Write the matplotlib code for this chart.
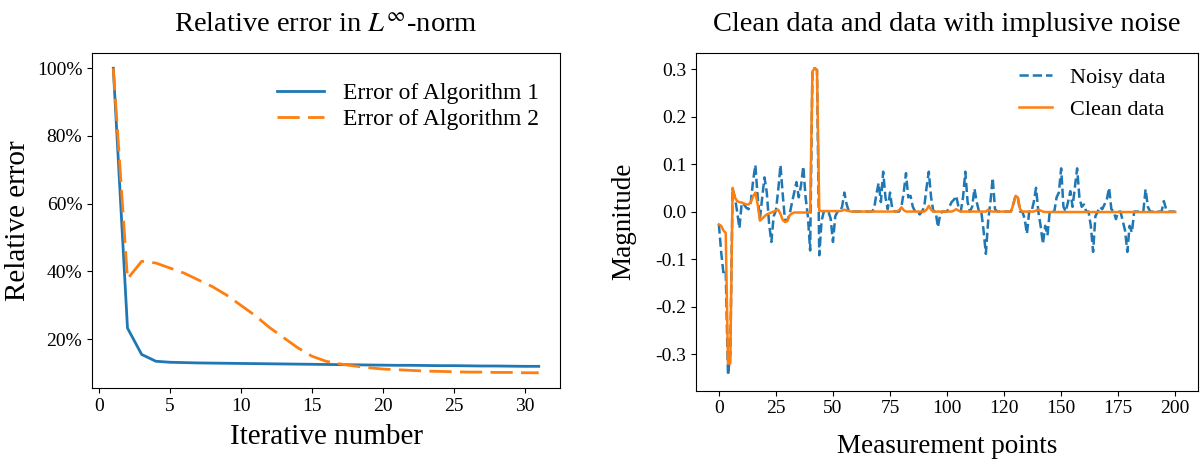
import matplotlib
matplotlib.use('Agg')
import matplotlib.pyplot as plt
import numpy as np

plt.rcParams['font.family'] = ['Liberation Serif', 'DejaVu Serif']
plt.rcParams['mathtext.fontset'] = 'stix'
plt.rcParams['axes.unicode_minus'] = False

# relative error curves (%)
iters = list(range(1, 32))
err_alg1 = [100.0, 23.3, 15.5, 13.5, 13.2, 13.1, 13.0, 12.95, 12.9, 12.85, 12.8, 12.75, 12.7, 12.65,
            12.6, 12.55, 12.5, 12.45, 12.4, 12.35, 12.3, 12.3, 12.25, 12.2, 12.2, 12.15, 12.1, 12.1,
            12.05, 12.0, 12.0]
err_alg2 = [100.0, 37.8, 43.0, 42.5, 41.0, 39.5, 37.5, 35.5, 33.0, 30.0, 27.0, 23.5, 20.5, 17.5,
            15.0, 13.5, 12.7, 12.1, 11.6, 11.2, 11.0, 10.8, 10.6, 10.5, 10.4, 10.3, 10.3, 10.2,
            10.2, 10.1, 10.1]

# measurement data
points = list(range(0, 201))
noisy = [-0.027, -0.085, -0.130, -0.125, -0.345, -0.300, 0.048, 0.030, 0.000, -0.035,
         0.018, 0.015, 0.008, 0.005, 0.020, 0.065, 0.098, 0.030, -0.015, 0.030,
         0.072, 0.040, -0.025, -0.064, -0.010, 0.002, 0.045, 0.098, 0.035, -0.020,
         -0.018, -0.006, 0.018, 0.040, 0.062, 0.030, 0.055, 0.095, 0.030, -0.010,
         -0.082, 0.300, 0.302, 0.298, -0.092, -0.020, 0.000, 0.000, 0.000, -0.015,
         -0.064, -0.010, 0.000, 0.000, 0.010, 0.040, 0.015, 0.000, 0.000, 0.000,
         0.000, 0.000, 0.000, 0.000, 0.000, 0.000, 0.000, 0.000, 0.005, 0.036,
         0.060, 0.020, 0.084, 0.030, 0.005, 0.040, 0.005, 0.000, 0.000, 0.000,
         0.010, 0.040, 0.081, 0.030, 0.033, 0.010, 0.000, 0.000, -0.006, 0.000,
         0.010, 0.050, 0.084, 0.030, 0.000, 0.000, -0.033, -0.005, 0.000, 0.000,
         0.000, 0.010, 0.020, 0.025, 0.033, 0.010, 0.000, 0.030, 0.084, 0.020,
         0.000, 0.010, 0.048, 0.020, 0.000, 0.000, -0.040, -0.089, -0.020, 0.020,
         0.071, 0.005, 0.000, 0.000, 0.000, 0.000, 0.000, 0.000, 0.000, 0.015,
         0.033, 0.030, 0.000, 0.000, -0.015, -0.047, 0.000, 0.000, 0.020, 0.050,
         0.000, -0.030, -0.068, -0.030, -0.050, 0.000, 0.000, 0.000, 0.030, 0.040,
         0.091, 0.010, 0.000, 0.020, 0.043, 0.010, 0.050, 0.091, 0.030, 0.010,
         0.015, 0.000, 0.000, -0.030, -0.085, -0.010, 0.000, 0.010, 0.005, 0.015,
         0.025, 0.050, 0.005, 0.000, -0.016, 0.000, 0.000, -0.020, -0.040, -0.085,
         -0.030, -0.044, 0.000, 0.000, 0.000, 0.000, 0.000, 0.047, 0.010, 0.000,
         0.000, 0.000, 0.000, 0.000, 0.000, 0.022, 0.005, 0.000, 0.000, 0.000,
         0.000]
clean = [-0.027, -0.030, -0.040, -0.045, -0.320, -0.320, 0.050, 0.030, 0.022, 0.020,
         0.019, 0.017, 0.015, 0.015, 0.020, 0.032, 0.040, 0.015, -0.019, -0.015,
         -0.010, -0.006, -0.004, -0.002, 0.000, 0.002, 0.004, -0.005, -0.018, -0.022,
         -0.020, -0.008, -0.004, -0.002, -0.002, -0.002, -0.002, -0.002, -0.002, -0.002,
         -0.002, 0.295, 0.302, 0.298, 0.002, 0.001, 0.001, 0.001, 0.001, 0.001,
         0.001, 0.001, 0.001, 0.001, 0.002, 0.004, 0.002, 0.001, 0.000, 0.000,
         0.000, 0.000, 0.000, 0.000, 0.000, 0.000, 0.000, 0.000, 0.000, 0.000,
         0.000, 0.000, 0.000, 0.000, 0.000, 0.000, 0.000, 0.000, 0.000, 0.003,
         0.009, 0.003, 0.000, 0.000, 0.000, 0.000, 0.000, 0.000, 0.000, 0.000,
         0.000, 0.004, 0.012, 0.004, 0.000, 0.000, 0.000, 0.000, 0.000, 0.000,
         0.000, 0.000, 0.000, 0.002, 0.005, 0.002, 0.000, 0.000, 0.000, 0.000,
         0.000, 0.000, 0.000, 0.000, 0.000, 0.000, 0.000, 0.000, 0.004, 0.001,
         0.000, 0.000, 0.000, 0.000, 0.000, 0.000, 0.000, 0.000, 0.000, 0.015,
         0.033, 0.030, 0.005, 0.000, 0.000, 0.000, 0.000, 0.000, 0.000, 0.002,
         0.004, 0.002, 0.000, -0.001, -0.001, -0.001, -0.001, -0.001, -0.001, -0.001,
         -0.001, -0.001, -0.001, -0.001, -0.001, -0.001, -0.001, -0.001, -0.001, -0.001,
         -0.001, -0.001, -0.001, -0.001, -0.001, -0.001, -0.001, -0.001, -0.001, -0.001,
         -0.001, -0.001, -0.001, -0.001, -0.001, -0.001, -0.001, -0.001, -0.001, -0.001,
         -0.001, -0.001, -0.001, -0.001, -0.001, -0.001, -0.001, -0.001, -0.001, -0.001,
         -0.001, -0.001, -0.001, -0.001, -0.001, -0.001, -0.001, -0.001, -0.001, -0.001,
         -0.001]

x_ticks_right = [0, 25, 50, 75, 100, 125, 150, 175, 200]
x_ticklabels_right = ['0', '25', '50', '75', '100', '120', '150', '175', '200']
y_ticks_right = [-0.3, -0.2, -0.1, 0.0, 0.1, 0.2, 0.3]

fig = plt.figure(figsize=(12.03, 4.63), dpi=100)

# left panel
ax1 = fig.add_axes([0.0765, 0.162, 0.389, 0.7235])
ax1.plot(iters, err_alg1, color='tab:blue', lw=2, label='Error of Algorithm 1')
ax1.plot(iters, err_alg2, color='tab:orange', lw=2, linestyle=(0, (8, 3)), label='Error of Algorithm 2')
ax1.set_xticks([0, 5, 10, 15, 20, 25, 30])
ax1.set_yticks([20, 40, 60, 80, 100])
ax1.set_yticklabels(['20%', '40%', '60%', '80%', '100%'])
ax1.tick_params(labelsize=14)
ax1.set_xlabel('Iterative number', fontsize=21, labelpad=7)
ax1.set_ylabel('Relative error', fontsize=21)
ax1.set_title(r'Relative error in $L^{\infty}$-norm', fontsize=20.5, pad=16)
ax1.legend(loc='upper right', frameon=False, fontsize=17, labelspacing=0.2,
           bbox_to_anchor=(1.0, 0.975))

# right panel
ax2 = fig.add_axes([0.5786, 0.156, 0.4173, 0.73])
ax2.plot(points, noisy, color='tab:blue', lw=1.8, linestyle='--', label='Noisy data')
ax2.plot(points, clean, color='tab:orange', lw=1.8, label='Clean data')
ax2.set_xticks(x_ticks_right)
ax2.set_xticklabels(x_ticklabels_right)
ax2.set_yticks(y_ticks_right)
ax2.tick_params(labelsize=14)
ax2.set_xlabel('Measurement points', fontsize=19.5, labelpad=12)
ax2.set_ylabel('Magnitude', fontsize=19.5, labelpad=14)
ax2.set_title('Clean data and data with implusive noise', fontsize=20.5, pad=16)
ax2.legend(loc='upper right', frameon=False, fontsize=16, handlelength=1.5,
           bbox_to_anchor=(0.975, 1.015))

fig.savefig('out.png', dpi=100)
